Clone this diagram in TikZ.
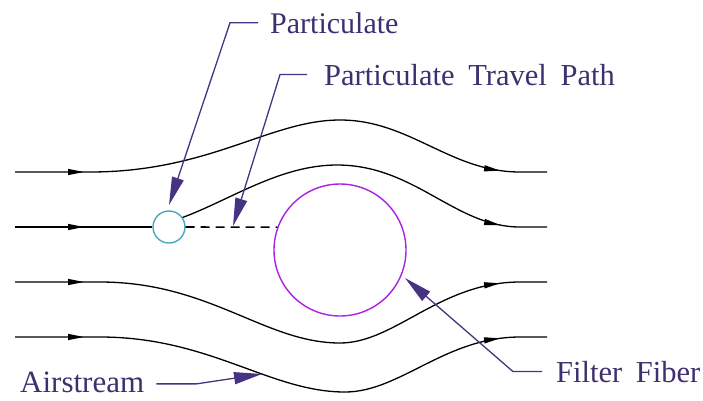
\documentclass[tikz,border=0pt]{standalone}
\usepackage{fontspec}
\setmainfont{Liberation Serif}
\usetikzlibrary{arrows.meta,decorations.markings}
\definecolor{txtc}{RGB}{62,48,112}
\definecolor{leadc}{RGB}{70,52,130}
\definecolor{fiberc}{RGB}{170,35,225}
\definecolor{partc}{RGB}{70,170,190}
\newcommand{\wsp}{\hspace{0.45em}}
\begin{document}
\begin{tikzpicture}[x=1pt,y=-1pt,
  instream/.style={line width=1.3pt, black, postaction={decorate},
    decoration={markings, mark=at position 69pt with {\arrow{Triangle[length=16pt,width=6pt]}}}},
  outstream/.style={line width=1.3pt, black, postaction={decorate},
    decoration={markings, mark=at position -47pt with {\arrow{Triangle[length=16pt,width=6pt]}}}},
  fullstream/.style={line width=1.3pt, black, postaction={decorate},
    decoration={markings, mark=at position 69pt with {\arrow{Triangle[length=16pt,width=6pt]}},
      mark=at position -47pt with {\arrow{Triangle[length=16pt,width=6pt]}}}},
  leader/.style={line width=1.3pt, leadc, -{Triangle[length=28pt,width=12pt]}},
  lbl/.style={font=\fontsize{30}{35}\selectfont, text=txtc, inner sep=0pt, anchor=base west},
  fiber/.style={circle, draw=fiberc, line width=1.4pt, minimum size=132pt, inner sep=0pt},
  particle/.style={circle, draw=partc, line width=1.4pt, minimum size=32pt, inner sep=0pt},
  travel/.style={line width=1.6pt, dash pattern=on 9pt off 6pt}
]
\useasboundingbox[fill=white] (0,0) rectangle (703,400);

% fiber and particle
\node[fiber] (fib) at (340,250) {};
\node[particle] (part) at (169,227) {};

% streamlines
\draw[fullstream] (15,172) -- (90,172) .. controls (210,172) and (270,120) .. (340,120)
   .. controls (410,120) and (450,172) .. (520,172) -- (547,172);
\draw[instream] (15,227) -- (part.west);
\draw[outstream] (part.35) .. controls (230,200) and (280,165) .. (337,165)
   .. controls (415,165) and (455,227) .. (520,227) -- (547,227);
\draw[fullstream] (15,282) -- (100,282) .. controls (210,282) and (265,343) .. (340,343)
   .. controls (395,343) and (440,282) .. (520,282) -- (547,282);
\draw[fullstream] (15,337) -- (100,337) .. controls (210,337) and (270,392) .. (345,392)
   .. controls (400,392) and (445,337) .. (520,337) -- (547,337);

% travel path
\draw[travel] (part.east) -- (fib.160.4);

% labels
\node[lbl] (tP) at (270,33) {Particulate};
\node[lbl, font=\fontsize{30.5}{35}\selectfont] (tT) at (324,85) {Particulate\wsp Travel\wsp Path};
\node[lbl, font=\fontsize{30.5}{35}\selectfont] (tF) at (556,382) {Filter\wsp Fiber};
\node[lbl, font=\fontsize{31}{36}\selectfont] (tA) at (20,392) {Airstream};

\coordinate (pTip) at (169,205);
\coordinate (tTip) at (233,226);
\coordinate (fTip) at (405,278);
\coordinate (aTip) at (262,374);

\draw[leader] ([xshift=-12pt]tP.west) -- ++(-28,0) -- (pTip);
\draw[leader] ([xshift=-17pt]tT.west) -- ++(-27,0) -- (tTip);
\draw[leader] ([xshift=-14pt]tF.west) -- ++(-29,0) -- (fTip);
\draw[leader] ([xshift=12pt,yshift=-2pt]tA.east) -- ++(40,0) -- (aTip);
\end{tikzpicture}
\end{document}
